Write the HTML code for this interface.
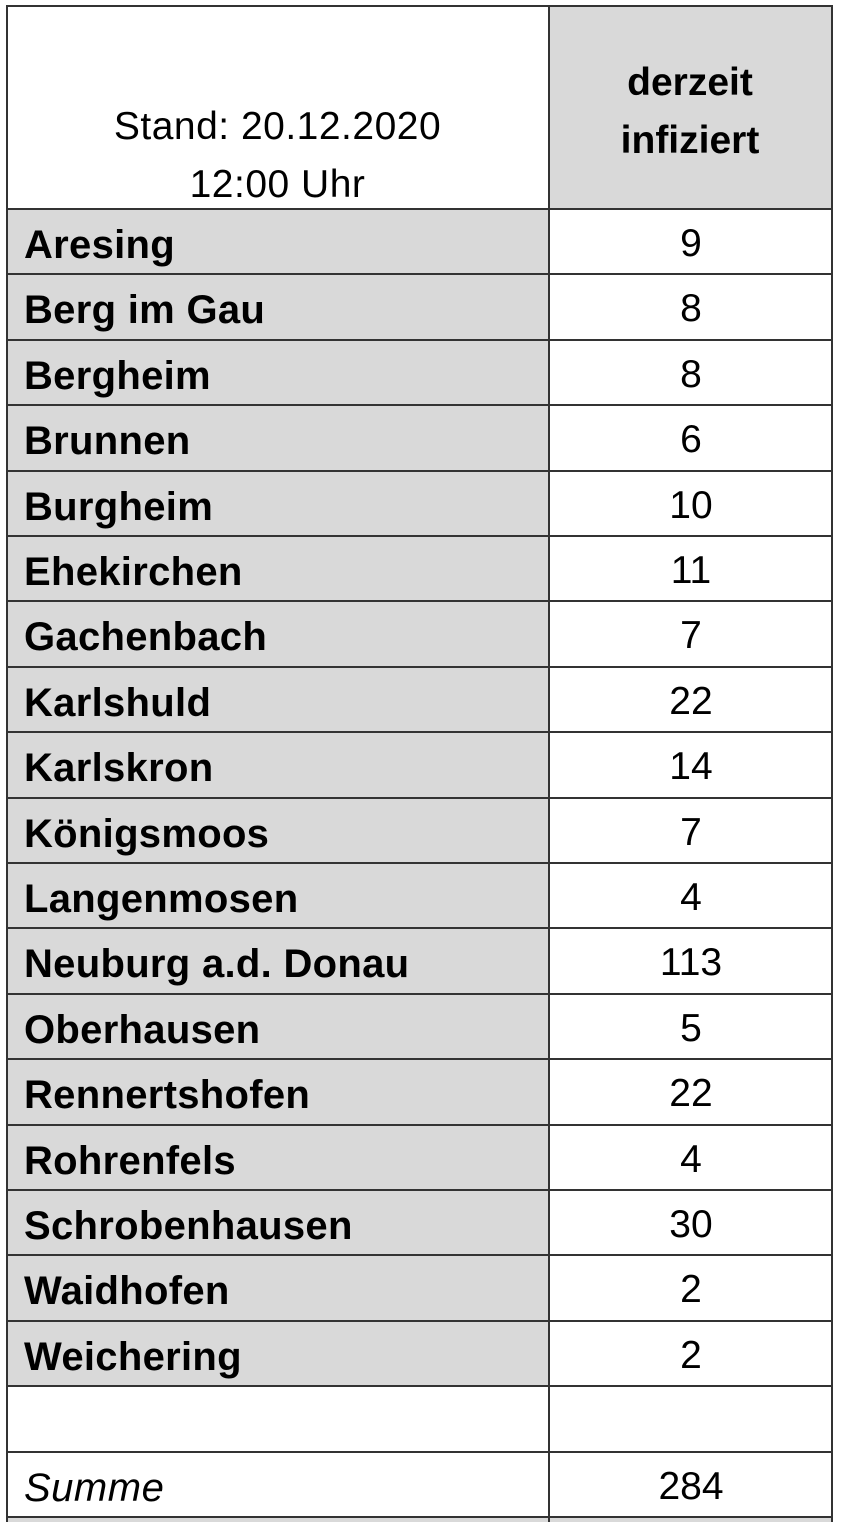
<!DOCTYPE html>
<html style="width:841px;height:1522px;overflow:hidden"><head><meta charset="utf-8"><style>
html,body{margin:0;padding:0}
body{width:841px;height:1522px;background:#fff;overflow:hidden;position:relative;font-family:"Liberation Sans",sans-serif;color:#000}
.r{position:absolute;left:7px;width:825px;border-top:2px solid #333;box-sizing:border-box}
.c1{position:absolute;left:0;top:0;bottom:0;width:541px;background:#d9d9d9;}
.c2{position:absolute;left:541px;top:0;bottom:0;width:284px;border-left:2px solid #333;background:#fff;box-sizing:border-box}
.n{position:absolute;left:17px;font-weight:bold;font-size:40px;letter-spacing:0.3px;line-height:64px;top:3px;white-space:nowrap}
.v{position:absolute;right:0;text-align:center;font-size:39px;line-height:64px;top:2px}
</style></head><body>
<div class="r" style="top:6px;height:202px;border-top:none">
<div class="c1" style="background:#fff"></div>
<div class="c2" style="background:#d9d9d9"></div>
<div style="position:absolute;left:0;width:541px;top:92px;text-align:center;font-size:39px;line-height:58px;letter-spacing:0.5px">Stand: 20.12.2020<br>12:00 Uhr</div>
<div style="position:absolute;left:541px;width:284px;top:48px;text-align:center;font-size:39px;font-weight:bold;line-height:58px">derzeit<br>infiziert</div>
</div>
<div id="rows"></div>
<div style="position:absolute;left:6px;top:5px;width:823px;height:1530px;border:2px solid #333"></div>
<script>
var d=[["Aresing",9],["Berg im Gau",8],["Bergheim",8],["Brunnen",6],["Burgheim",10],["Ehekirchen",11],["Gachenbach",7],["Karlshuld",22],["Karlskron",14],["Königsmoos",7],["Langenmosen",4],["Neuburg a.d. Donau",113],["Oberhausen",5],["Rennertshofen",22],["Rohrenfels",4],["Schrobenhausen",30],["Waidhofen",2],["Weichering",2],["",""],["Summe",284]];
var h="";for(var i=0;i<d.length;i++){var t=208+i*65.4;var g=i<18;
h+='<div class="r" style="top:'+t+'px;height:66px"><div class="c1" style="background:'+(g?'#d9d9d9':'#fff')+'"></div><div class="c2"></div>'+
(i==19?'<div class="n" style="font-weight:normal;font-style:italic;letter-spacing:0.5px">Summe</div>':'<div class="n">'+d[i][0]+'</div>')+
'<div class="v" style="left:543px">'+d[i][1]+'</div></div>';}
h+='<div class="r" style="top:1516px;height:10px"><div class="c1" style="background:#d9d9d9"></div><div class="c2" style="background:#d9d9d9"></div></div>';
document.getElementById("rows").innerHTML=h;
</script>
</body></html>
